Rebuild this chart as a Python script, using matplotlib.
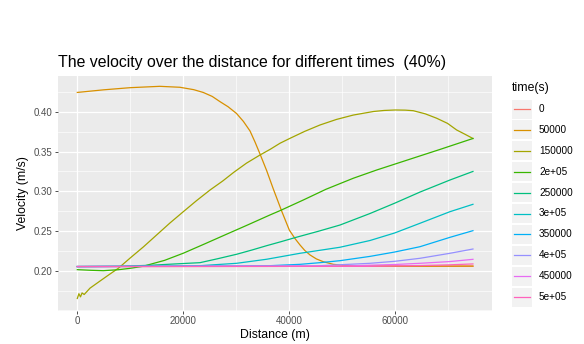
import matplotlib
matplotlib.use("Agg")
import matplotlib.pyplot as plt
from matplotlib.patches import Rectangle
from matplotlib.ticker import MultipleLocator

plt.rcParams['font.family'] = ['Liberation Sans', 'DejaVu Sans']

# etiquetas de la leyenda y colores (paleta hue de ggplot)
etiquetas = ["0", "50000", "150000", "2e+05", "250000", "3e+05",
             "350000", "4e+05", "450000", "5e+05"]
colores = ["#F8766D", "#D89000", "#A3A500", "#39B600", "#00BF7D",
           "#00BFC4", "#00B0F6", "#9590FF", "#E76BF3", "#FF62BC"]

# datos: distancia (m) y velocidad (m/s)
dist_0 = [0, 74800]
vel_0 = [0.2052, 0.2056]

dist_50000 = [0, 5000, 10000, 15600, 19400, 22000, 23800, 25500, 27000, 28500, 30100,
              31400, 32650, 33600, 34540, 35800, 37050, 38640, 40080, 41150, 42100,
              43000, 44000, 45200, 46500, 48400, 50500, 55000, 60000, 74800]
vel_50000 = [0.4245, 0.4278, 0.4305, 0.4322, 0.4310, 0.4280, 0.4245, 0.4195, 0.4128, 0.4065, 0.3980,
             0.3880, 0.3760, 0.3620, 0.3470, 0.3260, 0.3030, 0.2750, 0.2512, 0.2405, 0.2324,
             0.2255, 0.2198, 0.2148, 0.2113, 0.2080, 0.2066, 0.2060, 0.2058, 0.2058]

dist_150000 = [0, 300, 600, 900, 1300, 2400, 4300, 6000, 7750, 10000, 12500, 15000, 17500,
               20040, 22500, 25090, 27500, 29600, 32000, 34540, 36500, 38320, 40210, 43000,
               45880, 49000, 52170, 56000, 58000, 60100, 62000, 63510, 65800, 67940, 70000,
               71720, 73300, 74800]
vel_150000 = [0.165, 0.171, 0.167, 0.172, 0.170, 0.178, 0.187, 0.195, 0.203, 0.216, 0.230, 0.245, 0.260,
              0.2743, 0.288, 0.3016, 0.313, 0.324, 0.3355, 0.3457, 0.353, 0.3605, 0.3667, 0.3755,
              0.3835, 0.3905, 0.396, 0.4005, 0.4018, 0.4024, 0.4022, 0.4015, 0.3975, 0.392, 0.3855,
              0.3772, 0.3718, 0.3665]

dist_2e5 = [0, 2500, 4900, 7750, 10000, 12400, 16500, 20040, 24000, 28240, 32000, 36430,
            38320, 42720, 47000, 52170, 56600, 61630, 65000, 68560, 71500, 74800]
vel_2e5 = [0.2013, 0.2005, 0.2000, 0.2012, 0.2030, 0.2055, 0.2130, 0.2220, 0.2335, 0.2460, 0.2570, 0.2702,
           0.2756, 0.2890, 0.3025, 0.3164, 0.3268, 0.3377, 0.3450, 0.3527, 0.3592, 0.3665]

dist_250000 = [0, 8000, 13740, 18500, 23200, 26500, 30130, 33000, 35800, 38500, 41150,
               45500, 49660, 55330, 60000, 64780, 70450, 74800]
vel_250000 = [0.2052, 0.2055, 0.2068, 0.2085, 0.2101, 0.2150, 0.2207, 0.2260, 0.2315, 0.2365, 0.2416,
              0.2495, 0.2575, 0.2720, 0.2850, 0.2990, 0.3142, 0.3250]

dist_3e5 = [0, 15000, 23200, 30130, 35800, 42100, 49660, 55330, 60000, 64780, 70450, 74800]
vel_3e5 = [0.2052, 0.2055, 0.2063, 0.2093, 0.2144, 0.2219, 0.2295, 0.2380, 0.2475, 0.2597, 0.2743, 0.2836]

dist_350000 = [0, 30000, 36430, 42100, 45880, 49660, 55330, 60000, 64780, 70450, 74800]
vel_350000 = [0.2052, 0.2058, 0.2063, 0.2080, 0.2101, 0.2126, 0.2180, 0.2235, 0.2302, 0.2420, 0.2504]

dist_4e5 = [0, 45000, 55330, 60000, 64780, 70450, 74800]
vel_4e5 = [0.2052, 0.2060, 0.2093, 0.2118, 0.2156, 0.2219, 0.2273]

dist_450000 = [0, 50000, 60000, 64780, 70450, 74800]
vel_450000 = [0.2052, 0.2058, 0.2078, 0.2093, 0.2115, 0.2143]

dist_5e5 = [0, 55000, 65000, 70000, 74800]
vel_5e5 = [0.2052, 0.2055, 0.2065, 0.2073, 0.2085]

series_x = [dist_0, dist_50000, dist_150000, dist_2e5, dist_250000,
            dist_3e5, dist_350000, dist_4e5, dist_450000, dist_5e5]
series_y = [vel_0, vel_50000, vel_150000, vel_2e5, vel_250000,
            vel_3e5, vel_350000, vel_4e5, vel_450000, vel_5e5]

W, H = 584, 344
fig = plt.figure(figsize=(W / 100, H / 100), dpi=100)

# panel
x0, x1, y0, y1 = 58, 492, 76, 310.7
ax = fig.add_axes([x0 / W, 1 - y1 / H, (x1 - x0) / W, (y1 - y0) / H])
ax.set_facecolor("#EBEBEB")
for s in ax.spines.values():
    s.set_visible(False)

for xs, ys, c in zip(series_x, series_y, colores):
    ax.plot(xs, ys, color=c, lw=0.9, solid_joinstyle="round")

ax.set_xlim(-3650, 78400)
ax.set_ylim(0.1496, 0.4452)
ax.xaxis.set_minor_locator(MultipleLocator(10000))
ax.yaxis.set_minor_locator(MultipleLocator(0.025))
ax.set_xticks([0, 20000, 40000, 60000])
ax.set_xticklabels(["0", "20000", "40000", "60000"])
ax.set_yticks([0.20, 0.25, 0.30, 0.35, 0.40])
ax.set_yticklabels(["0.20", "0.25", "0.30", "0.35", "0.40"])
ax.grid(which="major", color="white", lw=0.9)
ax.grid(which="minor", color="white", lw=0.45)
ax.set_axisbelow(True)
ax.tick_params(which="major", length=2.2, width=0.6, color="#333333",
               labelsize=7, labelcolor="#4D4D4D", pad=1.5)
ax.tick_params(which="minor", length=0)

ax.set_xlabel("Distance (m)", fontsize=8.8, labelpad=2)
ax.set_ylabel("Velocity (m/s)", fontsize=8.8, labelpad=4)

fig.text(58 / W, 1 - 62 / H, "The velocity over the distance for different times  (40%)",
         fontsize=11.4, va="center", ha="left")

# leyenda dibujada a mano (estilo ggplot)
lax = fig.add_axes([0, 0, 1, 1])
lax.set_xlim(0, W)
lax.set_ylim(H, 0)
lax.axis("off")
lax.text(512, 88, "time(s)", fontsize=8.8, va="center", ha="left")
for i, (lab, c) in enumerate(zip(etiquetas, colores)):
    yc = 109 + i * 20.9
    lax.add_patch(Rectangle((512, yc - 9.5), 19.5, 19, color="#F2F2F2", lw=0))
    lax.plot([514, 530], [yc, yc], color=c, lw=0.9)
    lax.text(539, yc, lab, fontsize=7.2, va="center", ha="left")

fig.savefig("out.png", dpi=100)
